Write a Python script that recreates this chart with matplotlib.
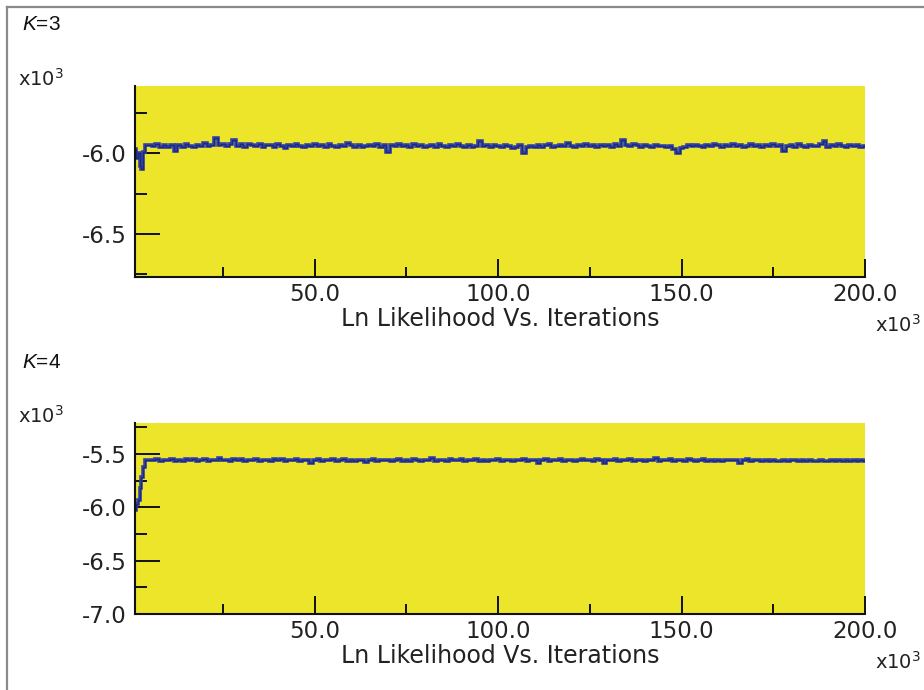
import numpy as np
import matplotlib
matplotlib.use("Agg")
import matplotlib.pyplot as plt
from matplotlib.lines import Line2D
from matplotlib.ticker import FixedLocator, FormatStrFormatter

plt.rcParams["axes.unicode_minus"] = False
plt.rcParams["mathtext.fontset"] = "custom"
plt.rcParams["mathtext.rm"] = "DejaVu Sans"
plt.rcParams["mathtext.it"] = "Liberation Sans:italic"

# ---- data (log-likelihood, x10^3) vs iterations (x10^3) ----
panel_labels = ["3", "4"]
x_major = [50.0, 100.0, 150.0, 200.0]
x_minor = [25.0, 75.0, 125.0, 175.0]

# K=3: burn-in then stationary trace (one value per 10^3 iterations from 5 to 200)
k3_burn_iter = [1.0, 1.5, 2.0, 2.5, 3.0, 3.5, 4.0]
k3_burn_lnl = [-5.97, -6.03, -6.00, -6.08, -6.10, -5.99, -5.95]
k3_trace = [
    -5.948, -5.952, -5.941, -5.957, -5.950, -5.963, -5.946, -5.985, -5.949, -5.958, -5.944, -5.953, -5.960, -5.947,
    -5.951, -5.938, -5.956, -5.945, -5.905, -5.949, -5.943, -5.955, -5.940, -5.915, -5.952, -5.944, -5.958, -5.941,
    -5.948, -5.953, -5.939, -5.962, -5.950, -5.946, -5.957, -5.943, -5.951, -5.966, -5.948, -5.954, -5.942, -5.955,
    -5.960, -5.947, -5.953, -5.940, -5.956, -5.949, -5.961, -5.944, -5.952, -5.958, -5.946, -5.955, -5.937, -5.950,
    -5.957, -5.945, -5.962, -5.951, -5.948, -5.955, -5.943, -5.959, -5.950, -5.990, -5.947, -5.953, -5.944, -5.956,
    -5.949, -5.958, -5.941, -5.954, -5.947, -5.962, -5.951, -5.945, -5.957, -5.939, -5.952, -5.960, -5.948, -5.955,
    -5.943, -5.951, -5.957, -5.946, -5.962, -5.953, -5.925, -5.955, -5.949, -5.958, -5.945, -5.952, -5.961, -5.947,
    -5.954, -5.966, -5.958, -5.949, -5.995, -5.960, -5.953, -5.962, -5.948, -5.957, -5.950, -5.944, -5.959, -5.951,
    -5.946, -5.955, -5.938, -5.952, -5.960, -5.947, -5.956, -5.942, -5.953, -5.949, -5.963, -5.945, -5.954, -5.950,
    -5.957, -5.944, -5.952, -5.918, -5.946, -5.955, -5.941, -5.950, -5.958, -5.947, -5.954, -5.962, -5.949, -5.956,
    -5.951, -5.963, -5.955, -5.972, -5.995, -5.966, -5.958, -5.949, -5.956, -5.945, -5.953, -5.960, -5.947, -5.955,
    -5.942, -5.950, -5.957, -5.946, -5.953, -5.939, -5.956, -5.948, -5.961, -5.951, -5.944, -5.955, -5.950, -5.958,
    -5.947, -5.953, -5.941, -5.956, -5.949, -5.985, -5.952, -5.945, -5.957, -5.943, -5.954, -5.960, -5.948, -5.951,
    -5.956, -5.944, -5.922, -5.959, -5.947, -5.955, -5.941, -5.952, -5.958, -5.946, -5.954, -5.949, -5.957, -5.952,
]

# K=4: burn-in then stationary trace (one value per 10^3 iterations from 5 to 200)
k4_burn_iter = [1.0, 1.5, 2.0, 2.5, 3.0, 3.5, 4.0]
k4_burn_lnl = [-6.03, -5.97, -5.93, -5.82, -5.72, -5.62, -5.56]
k4_trace = [
    -5.556, -5.561, -5.549, -5.565, -5.553, -5.558, -5.547, -5.562, -5.555, -5.568, -5.551, -5.559, -5.546, -5.563,
    -5.557, -5.550, -5.564, -5.553, -5.559, -5.535, -5.561, -5.556, -5.567, -5.552, -5.558, -5.549, -5.562, -5.555,
    -5.560, -5.548, -5.563, -5.554, -5.557, -5.566, -5.551, -5.559, -5.546, -5.562, -5.555, -5.561, -5.550, -5.564,
    -5.553, -5.559, -5.582, -5.556, -5.549, -5.562, -5.555, -5.560, -5.547, -5.563, -5.557, -5.552, -5.566, -5.558,
    -5.562, -5.554, -5.559, -5.571, -5.557, -5.550, -5.564, -5.556, -5.561, -5.553, -5.567, -5.558, -5.551, -5.563,
    -5.556, -5.562, -5.549, -5.558, -5.565, -5.553, -5.560, -5.538, -5.563, -5.555, -5.559, -5.568, -5.552, -5.557,
    -5.561, -5.550, -5.564, -5.556, -5.559, -5.546, -5.562, -5.557, -5.566, -5.553, -5.558, -5.549, -5.563, -5.555,
    -5.560, -5.567, -5.554, -5.561, -5.548, -5.563, -5.556, -5.559, -5.584, -5.557, -5.552, -5.564, -5.555, -5.560,
    -5.549, -5.562, -5.557, -5.553, -5.565, -5.558, -5.546, -5.561, -5.555, -5.563, -5.551, -5.559, -5.585, -5.554,
    -5.558, -5.552, -5.564, -5.557, -5.561, -5.549, -5.563, -5.556, -5.560, -5.568, -5.553, -5.559, -5.537, -5.562,
    -5.555, -5.561, -5.550, -5.565, -5.557, -5.553, -5.562, -5.548, -5.559, -5.564, -5.556, -5.551, -5.563, -5.558,
    -5.562, -5.554, -5.567, -5.559, -5.553, -5.561, -5.556, -5.588, -5.558, -5.552, -5.564, -5.557, -5.560, -5.566,
    -5.559, -5.565, -5.556, -5.562, -5.570, -5.558, -5.563, -5.555, -5.561, -5.567, -5.557, -5.564, -5.559, -5.562,
    -5.566, -5.558, -5.563, -5.569, -5.557, -5.562, -5.556, -5.565, -5.560, -5.567, -5.558, -5.563, -5.561, -5.564,
]

y_limits = [(-6.77, -5.58), (-7.0, -5.21)]
y_major = [[-6.5, -6.0], [-7.0, -6.5, -6.0, -5.5]]
y_minor = [[-6.75, -6.25, -5.75], [-6.75, -6.25, -5.75, -5.25]]
traces = [(k3_burn_iter, k3_burn_lnl, k3_trace), (k4_burn_iter, k4_burn_lnl, k4_trace)]

# ---- styling ----
W, H = 924, 690
PANEL_FACE = "#ece52a"
TRACE_COLOR = "#3041aa"
SPIKE_COLOR = "#1c2570"
TEXT_COLOR = "#222222"
TICK_FAMILY = "DejaVu Sans"
TICK_SIZE = 16.5

fig = plt.figure(figsize=(W / 100, H / 100), dpi=100)
fig.patch.set_facecolor("white")

def px(x, y):
    return x / W, 1 - y / H

# outer frame (top and left edges)
fig.add_artist(Line2D([7 / W, 1.0], [1 - 7 / H, 1 - 7 / H], color="#8a8a8a", lw=1.6))
fig.add_artist(Line2D([7 / W, 7 / W], [0.0, 1 - 7 / H], color="#8a8a8a", lw=1.6))

panel_tops = [86, 423]
panel_bottoms = [277, 614]
left, right = 135, 865

for i in range(2):
    top, bot = panel_tops[i], panel_bottoms[i]
    ax = fig.add_axes([left / W, 1 - bot / H, (right - left) / W, (bot - top) / H])
    ax.set_facecolor(PANEL_FACE)

    burn_x, burn_y, trace = traces[i]
    trace_x = burn_x[-1] + 1.0 + np.arange(len(trace))
    xs = np.concatenate([burn_x, trace_x])
    ys = np.concatenate([burn_y, trace])
    # blocky sampler trace with a thin darker copy for the spikes
    ax.plot(xs, ys, color=TRACE_COLOR, lw=2.6, drawstyle="steps-mid", solid_joinstyle="miter")
    ax.plot(xs, ys, color=SPIKE_COLOR, lw=0.9, drawstyle="steps-mid", alpha=0.85)

    ax.set_xlim(1.0, 200.0)
    ax.set_ylim(*y_limits[i])

    for s in ("top", "right"):
        ax.spines[s].set_visible(False)
    for s in ("left", "bottom"):
        ax.spines[s].set_color("#111111")
        ax.spines[s].set_linewidth(1.5)

    ax.xaxis.set_major_locator(FixedLocator(x_major))
    ax.xaxis.set_minor_locator(FixedLocator(x_minor))
    ax.yaxis.set_major_locator(FixedLocator(y_major[i]))
    ax.yaxis.set_minor_locator(FixedLocator(y_minor[i]))
    ax.xaxis.set_major_formatter(FormatStrFormatter("%.1f"))
    ax.yaxis.set_major_formatter(FormatStrFormatter("%.1f"))

    ax.tick_params(axis="x", which="major", direction="in", length=13, width=1.4,
                   color="#111111", pad=4.5, labelcolor=TEXT_COLOR)
    ax.tick_params(axis="x", which="minor", direction="in", length=7, width=1.4, color="#111111")
    ax.tick_params(axis="y", which="major", direction="in", length=18, width=1.4,
                   color="#111111", pad=6, labelcolor=TEXT_COLOR)
    ax.tick_params(axis="y", which="minor", direction="in", length=8.5, width=1.4, color="#111111")
    for lab in ax.get_xticklabels() + ax.get_yticklabels():
        lab.set_fontfamily(TICK_FAMILY)
        lab.set_fontsize(TICK_SIZE)

    # axis captions
    fig.text(*px(500, bot + 42), "Ln Likelihood Vs. Iterations", ha="center", va="center",
             family="DejaVu Sans", size=17, color=TEXT_COLOR)
    fig.text(*px(921, bot + 48), r"x10$^3$", ha="right", va="center",
             family="DejaVu Sans", size=14, color=TEXT_COLOR)
    fig.text(*px(18, top - 7), r"x10$^3$", ha="left", va="center",
             family="DejaVu Sans", size=14, color=TEXT_COLOR)
    fig.text(*px(22, top - 61), "$K$=" + panel_labels[i], ha="left", va="center",
             family="Liberation Sans", size=15, color="#111111")

fig.savefig("out.png", dpi=100, facecolor="white")
